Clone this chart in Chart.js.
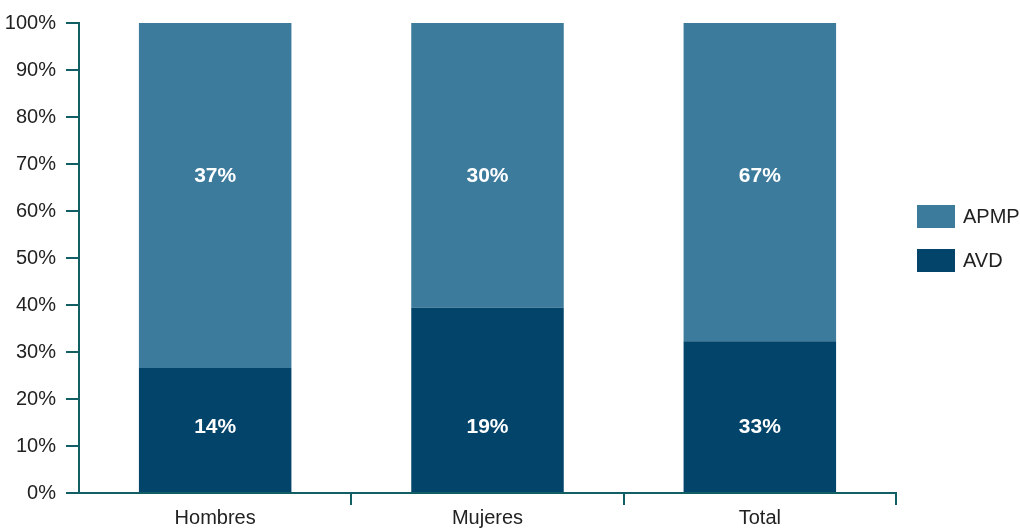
<!DOCTYPE html>
<html>
<head>
<meta charset="utf-8">
<script src="https://cdn.jsdelivr.net/npm/chart.js@4"></script>
<style>
  html,body{margin:0;padding:0;background:#fff;}
  #wrap{width:1020px;height:529px;position:relative;}
</style>
</head>
<body>
<div id="wrap"><canvas id="ch"></canvas></div>
<script>
// categories + series (bar shares, labels as printed)
const cats=['Hombres','Mujeres','Total'];
const avdShare=[26.6,39.4,32.3];
const apmpShare=[73.4,60.6,67.7];
const avdLbl=['14%','19%','33%'];
const apmpLbl=['37%','30%','67%'];
const yTicks=[0,10,20,30,40,50,60,70,80,90,100];

const C={apmp:'#3d7b9d',avd:'#03446a',axis:'#115e65',txt:'#222'};
const FONT="'Liberation Sans Narrow','Arial Narrow','Liberation Sans',Arial,sans-serif";

// white labels inside the segments
const segLabels={
  id:'segLabels',
  afterDatasetsDraw(chart){
    const {ctx,scales:{y}}=chart;
    ctx.save();
    ctx.fillStyle='#fff';
    ctx.font='bold 21px '+FONT;
    ctx.textAlign='center';ctx.textBaseline='middle';
    chart.data.datasets.forEach((ds,di)=>{
      const meta=chart.getDatasetMeta(di);
      const yv=di===0?14.3:67.7;
      meta.data.forEach((bar,i)=>{
        ctx.fillText(ds.lbl[i],bar.x,y.getPixelForValue(yv)+1);
      });
    });
    ctx.restore();
  }
};

// legend on the right, APMP above AVD
const sideLegend={
  id:'sideLegend',
  afterDraw(chart){
    const {ctx,chartArea:a}=chart;
    ctx.save();
    ctx.font='20px '+FONT;
    ctx.textBaseline='middle';
    const items=chart.data.datasets.slice().reverse();
    items.forEach((ds,i)=>{
      const bx=a.right+21, by=205+i*44;
      ctx.fillStyle=ds.backgroundColor;
      ctx.fillRect(bx,by,38,23);
      ctx.fillStyle=C.txt;
      ctx.fillText(ds.label,bx+46,by+12);
    });
    ctx.restore();
  }
};

new Chart(document.getElementById('ch'),{
  type:'bar',
  data:{
    labels:cats,
    datasets:[
      {label:'AVD',data:avdShare,lbl:avdLbl,backgroundColor:C.avd},
      {label:'APMP',data:apmpShare,lbl:apmpLbl,backgroundColor:C.apmp}
    ]
  },
  options:{
    responsive:true,maintainAspectRatio:false,animation:false,
    layout:{padding:{left:0,top:23,right:124,bottom:0}},
    datasets:{bar:{barPercentage:0.56,categoryPercentage:1,borderWidth:0}},
    plugins:{legend:{display:false},tooltip:{enabled:false}},
    scales:{
      x:{
        stacked:true,
        afterFit:s=>{s.height=36;},
        grid:{offset:true,drawOnChartArea:false,drawTicks:true,tickLength:12,
          color:c=>c.index===0?'rgba(0,0,0,0)':C.axis,lineWidth:2},
        border:{display:true,color:C.axis,width:2},
        ticks:{color:C.txt,font:{family:FONT,size:20},padding:1,maxRotation:0}
      },
      y:{
        stacked:true,min:0,max:100,
        afterFit:s=>{s.width=79;s.paddingTop=0;},
        afterBuildTicks:s=>{s.ticks=yTicks.map(v=>({value:v}));},
        grid:{drawOnChartArea:false,tickLength:13,color:C.axis,lineWidth:2},
        border:{display:true,color:C.axis,width:2},
        ticks:{color:C.txt,font:{family:FONT,size:20},padding:10,callback:v=>v+'%'}
      }
    }
  },
  plugins:[segLabels,sideLegend]
});
</script>
</body>
</html>
